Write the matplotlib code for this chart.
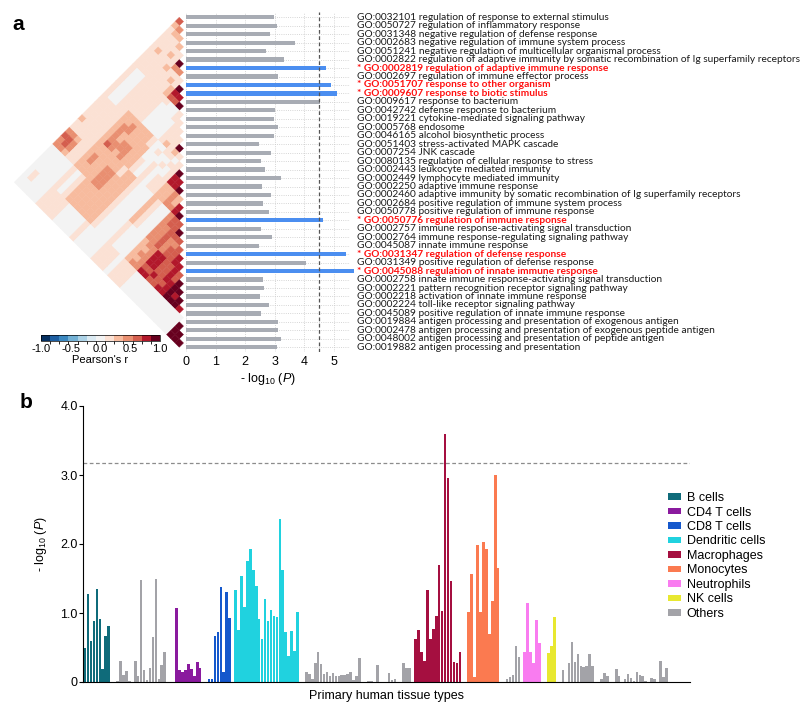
import numpy as np
import matplotlib
matplotlib.use('Agg')
from matplotlib import pyplot as plt
from matplotlib import font_manager
from matplotlib.collections import PolyCollection
from matplotlib.colors import ListedColormap, BoundaryNorm
from matplotlib.patches import Patch
import matplotlib.colorbar as mcolorbar

# === 0. DATA ===

# panel a: GO terms (top to bottom), -log10(P), significant terms in red
go_terms = [
    "GO:0032101 regulation of response to external stimulus",
    "GO:0050727 regulation of inflammatory response",
    "GO:0031348 negative regulation of defense response",
    "GO:0002683 negative regulation of immune system process",
    "GO:0051241 negative regulation of multicellular organismal process",
    "GO:0002822 regulation of adaptive immunity by somatic recombination of Ig superfamily receptors",
    "GO:0002819 regulation of adaptive immune response",
    "GO:0002697 regulation of immune effector process",
    "GO:0051707 response to other organism",
    "GO:0009607 response to biotic stimulus",
    "GO:0009617 response to bacterium",
    "GO:0042742 defense response to bacterium",
    "GO:0019221 cytokine-mediated signaling pathway",
    "GO:0005768 endosome",
    "GO:0046165 alcohol biosynthetic process",
    "GO:0051403 stress-activated MAPK cascade",
    "GO:0007254 JNK cascade",
    "GO:0080135 regulation of cellular response to stress",
    "GO:0002443 leukocyte mediated immunity",
    "GO:0002449 lymphocyte mediated immunity",
    "GO:0002250 adaptive immune response",
    "GO:0002460 adaptive immunity by somatic recombination of Ig superfamily receptors",
    "GO:0002684 positive regulation of immune system process",
    "GO:0050778 positive regulation of immune response",
    "GO:0050776 regulation of immune response",
    "GO:0002757 immune response-activating signal transduction",
    "GO:0002764 immune response-regulating signaling pathway",
    "GO:0045087 innate immune response",
    "GO:0031347 regulation of defense response",
    "GO:0031349 positive regulation of defense response",
    "GO:0045088 regulation of innate immune response",
    "GO:0002758 innate immune response-activating signal transduction",
    "GO:0002221 pattern recognition receptor signaling pathway",
    "GO:0002218 activation of innate immune response",
    "GO:0002224 toll-like receptor signaling pathway",
    "GO:0045089 positive regulation of innate immune response",
    "GO:0019884 antigen processing and presentation of exogenous antigen",
    "GO:0002478 antigen processing and presentation of exogenous peptide antigen",
    "GO:0048002 antigen processing and presentation of peptide antigen",
    "GO:0019882 antigen processing and presentation",
]
go_significant = ["GO:0002819", "GO:0051707", "GO:0009607", "GO:0050776",
                  "GO:0031347", "GO:0045088"]
go_neglog_p = [2.98, 3.08, 2.83, 3.68, 2.71, 3.32, 4.75, 3.11, 4.92, 5.10,
               4.52, 3.00, 2.98, 3.12, 2.97, 2.47, 2.86, 2.55, 2.69, 3.22,
               2.58, 2.89, 2.59, 2.82, 4.62, 2.53, 2.90, 2.46, 5.40, 4.06,
               5.70, 2.60, 2.63, 2.49, 2.81, 2.54, 3.10, 3.11, 3.20, 3.08]
go_threshold = 4.5

# lower triangle of Pearson's r between terms, row i has i cells (j = 0..i-1)
# digit d = r in colour bin d (0 ~ 0.0, 6 ~ 1.0)
hm_rows = [
    "4",
    "23",
    "122",
    "1112",
    "11111",
    "111216",
    "1211133",
    "11112111",
    "111111216",
    "1111111255",
    "11111112446",
    "100111111001",
    "1001111100011",
    "10011111000011",
    "100111110000111",
    "1001111100001116",
    "10011111000012121",
    "10011" "222" "2221" "001101",
    "11111" "223" "2221" "010011" "6",
    "11111" "233" "2222" "000101" "55",
    "11111" "232" "2222" "001001" "556",
    "11111" "232" "3322" "101011" "2232",
    "11111" "233" "3322" "101011" "22325",
    "21111" "243" "2322" "101011" "223356",
    "11111" "222" "2221" "221000" "2100344",
    "11111" "222" "2221" "221000" "2100344" "6",
    "33211" "232" "2332" "221000" "2100334" "44",
    "44311" "232" "2332" "221000" "2100334" "334",
    "34311" "222" "2332" "221000" "2100334" "3445",
    "33211" "222" "2332" "221000" "2100334" "34455",
    "00000" "101" "2222" "221000" "1000233" "554454",
    "00000" "101" "2222" "221000" "1000223" "5544546",
    "00000" "101" "2222" "221000" "1000233" "55445566",
    "00000" "101" "2222" "221000" "1000223" "445445656",
    "00000" "101" "2222" "221000" "1000233" "5544556665",
    "01000" "111" "1000" "010000" "1110111" "00000000000",
    "01000" "111" "1000" "010000" "1110111" "00000000000" "6",
    "00000" "111" "1000" "010000" "1110111" "00000000000" "66",
    "00000" "111" "1000" "010000" "1110111" "00000000000" "666",
]

# panel b: -log10(P) per tissue sample, in plotting order by cell type block
b_cells = [0.49, 1.27, 0.60, 0.89, 1.35, 0.92, 0.19, 0.66, 0.81]
others_1 = [0, 0, 0.01, 0.30, 0.10, 0.16, 0.01, 0, 0.30, 0.08, 1.48, 0.18,
            0.03, 0.20, 0.65, 1.49, 0.04, 0.24, 0.43, 0, 0, 0]
cd4_t = [1.07, 0.17, 0.14, 0.17, 0.26, 0.19, 0.08, 0.29, 0.21]
others_2 = [0, 0]
cd8_t = [0.05, 0.05, 0.66, 0.72, 1.38, 0.15, 1.30, 0.93]
others_3 = [0]
dendritic = [1.33, 0.75, 1.54, 1.09, 1.76, 1.93, 1.62, 1.39, 0.91, 0.63, 1.21,
             0.88, 1.05, 0.95, 0.94, 2.36, 1.62, 0.73, 0.37, 0.74, 0.45, 1.02]
others_4 = [0, 0, 0.14, 0.12, 0.05, 0.27, 0.43, 0.26, 0.11, 0.14, 0.09, 0.13,
            0.09, 0.08, 0.10, 0.10, 0.11, 0.15, 0.03, 0.09, 0.35, 0, 0, 0.01,
            0.02, 0, 0.24, 0, 0, 0, 0.13, 0.03, 0.05, 0, 0, 0.27, 0.21, 0.21, 0]
macrophages = [0.62, 0.75, 0.43, 0.30, 1.34, 0.62, 0.77, 0.95, 1.69, 1.03,
               3.60, 2.95, 1.47, 0.29, 0.28, 0.44]
others_5 = [0, 0]
monocytes = [1.01, 1.57, 0.07, 1.99, 1.01, 2.03, 1.93, 0.69, 1.18, 3.00, 1.65]
others_6 = [0, 0, 0.04, 0.07, 0.10, 0.52, 0.36, 0]
neutrophils = [0.44, 1.14, 0.44, 0.28, 0.90, 0.57]
others_7 = [0, 0]
nk_cells = [0.42, 0.52, 0.94]
others_8 = [0, 0, 0.17, 0, 0.28, 0.58, 0.29, 0.41, 0.23, 0.22, 0.23, 0.40,
            0.23, 0, 0, 0.04, 0.13, 0.08, 0, 0, 0.19, 0.09, 0, 0.05, 0.11,
            0.06, 0.02, 0.15, 0.10, 0.08, 0.02, 0, 0.06, 0.05, 0, 0.31, 0.07,
            0.21]
b_threshold = 3.17

cell_types = ["B cells", "CD4 T cells", "CD8 T cells", "Dendritic cells",
              "Macrophages", "Monocytes", "Neutrophils", "NK cells", "Others"]
cell_colors = ["#0f6b7a", "#8a1a9e", "#1558cc", "#20d2df", "#a50f40",
               "#fb7a50", "#f97cf0", "#e8e830", "#a3a3a8"]
b_blocks = [("B cells", b_cells), ("Others", others_1), ("CD4 T cells", cd4_t),
            ("Others", others_2), ("CD8 T cells", cd8_t), ("Others", others_3),
            ("Dendritic cells", dendritic), ("Others", others_4),
            ("Macrophages", macrophages), ("Others", others_5),
            ("Monocytes", monocytes), ("Others", others_6),
            ("Neutrophils", neutrophils), ("Others", others_7),
            ("NK cells", nk_cells), ("Others", others_8)]

# colour bins for Pearson's r, -1 .. 1
r_colors = ["#053061", "#1d5fa2", "#3b88c0", "#73b1d5", "#acd2e6", "#dbeaf2",
            "#f3f3f3", "#fbe1d4", "#f7bb9e", "#e98f71", "#d45e4e", "#b2182b",
            "#67001f"]

# === 1. FONTS ===

plt.rcParams['font.family'] = ['Liberation Sans', 'DejaVu Sans']
plt.rcParams['axes.unicode_minus'] = False
plt.rcParams['mathtext.fontset'] = 'custom'
plt.rcParams['mathtext.rm'] = 'Liberation Sans'
plt.rcParams['mathtext.it'] = 'Liberation Sans:italic'

available = {f.name for f in font_manager.fontManager.ttflist}
go_font = 'Liberation Sans Narrow' if 'Liberation Sans Narrow' in available else 'Lato'

W, H = 800, 714
fig = plt.figure(figsize=(W / 100, H / 100), dpi=100)

def px_axes(left, top, right, bottom):
    return fig.add_axes([left / W, 1 - bottom / H, (right - left) / W, (bottom - top) / H])

# === 2. PANEL A: HEATMAP TRIANGLE ===

row_px = 8.46
y_top = 17.3 - 0.6 * row_px
y_bot = 17.3 + 39.6 * row_px

ax_hm = px_axes(183.5 - 20.2 * row_px, y_top, 183.5 + 0.3 * row_px, y_bot)
polys, cols = [], []
for idx, row in enumerate(hm_rows):
    i = idx + 1
    assert len(row) == i
    for j, ch in enumerate(row):
        cx, cy = -(i - j) / 2, (i + j) / 2
        polys.append([(cx + 0.5, cy), (cx, cy + 0.5), (cx - 0.5, cy), (cx, cy - 0.5)])
        cols.append(r_colors[6 + int(ch)])
ax_hm.add_collection(PolyCollection(polys, facecolors=cols, edgecolors=cols, linewidths=0.3))
ax_hm.set_xlim(-20.2, 0.3)
ax_hm.set_ylim(39.6, -0.6)
ax_hm.axis('off')

# colorbar
ax_cb = px_axes(41, 335, 160, 341)
cmap = ListedColormap(r_colors)
norm = BoundaryNorm(np.linspace(-1, 1, len(r_colors) + 1), cmap.N)
cb = mcolorbar.ColorbarBase(ax_cb, cmap=cmap, norm=norm, orientation='horizontal',
                            ticks=[-1.0, -0.5, 0.0, 0.5, 1.0])
cb.ax.set_xticklabels(["-1.0", "-0.5", "0.0", "0.5", "1.0"])
cb.ax.tick_params(labelsize=8, length=0, pad=2)
cb.outline.set_linewidth(0.5)
cb.set_label("Pearson's r", fontsize=8, labelpad=1)

# === 3. PANEL A: BARS + LABELS ===

ax_bar = px_axes(186, y_top, 350, y_bot)
rows = np.arange(len(go_terms))
bar_colors = ['#4b8ef0' if t.split()[0] in go_significant else '#a8acb4' for t in go_terms]
ax_bar.barh(rows, go_neglog_p, height=0.5, color=bar_colors, zorder=3, clip_on=False)
ax_bar.axvline(go_threshold, color='#555555', linestyle=(0, (3, 2)), linewidth=0.9, zorder=4)
ax_bar.set_xlim(0, 5.55)
ax_bar.set_ylim(39.6, -0.6)
ax_bar.set_xticks([0, 1, 2, 3, 4, 5])
ax_bar.set_xticklabels(["0", "1", "2", "3", "4", "5"])
ax_bar.set_yticks(rows)
ax_bar.set_yticklabels([])
ax_bar.tick_params(axis='both', length=0, labelsize=9, pad=3)
ax_bar.grid(True, linestyle=':', color='#c8c8c8', linewidth=0.6, zorder=0)
for s in ax_bar.spines.values():
    s.set_visible(False)
ax_bar.set_xlabel("- log$_{10}$ ($P$)", fontsize=9, labelpad=2)

for i, term in enumerate(go_terms):
    if term.split()[0] in go_significant:
        ax_bar.text(5.8, i, "* " + term, va='center', ha='left', fontsize=7.3,
                    family=go_font, color='#ff1010', fontweight='bold', clip_on=False)
    else:
        ax_bar.text(5.8, i, term, va='center', ha='left', fontsize=7.3,
                    family=go_font, color='#1a1a1a', clip_on=False)

# === 4. PANEL B ===

ax_b = px_axes(83.3, 406, 690, 682)
color_of = dict(zip(cell_types, cell_colors))
k = 0
for name, vals in b_blocks:
    xs = np.arange(k, k + len(vals))
    ax_b.bar(xs, vals, width=0.88, color=color_of[name], linewidth=0)
    k += len(vals)
ax_b.axhline(b_threshold, color='#8c8c8c', linestyle=(0, (3, 2)), linewidth=0.9)
ax_b.set_xlim(-0.6, 205)
ax_b.set_ylim(0, 4.0)
ax_b.set_yticks([0, 1, 2, 3, 4])
ax_b.set_yticklabels(["0", "1.0", "2.0", "3.0", "4.0"])
ax_b.set_xticks([])
ax_b.tick_params(axis='y', labelsize=9, length=3, width=0.8, pad=1)
ax_b.spines['top'].set_visible(False)
ax_b.spines['right'].set_visible(False)
ax_b.spines['left'].set_linewidth(0.8)
ax_b.spines['bottom'].set_linewidth(0.8)
ax_b.set_ylabel("- log$_{10}$ ($P$)", fontsize=9, labelpad=8)
ax_b.set_xlabel("Primary human tissue types", fontsize=9, labelpad=6)

handles = [Patch(facecolor=c, edgecolor='none', label=n) for n, c in zip(cell_types, cell_colors)]
fig.legend(handles=handles, loc='upper left', bbox_to_anchor=(668 / W, 1 - 492 / H),
           frameon=False, fontsize=9, handlelength=1.0, handleheight=0.45,
           labelspacing=0.2, handletextpad=0.5, borderaxespad=0, borderpad=0)

# panel letters
fig.text(12 / W, 1 - 24 / H, "a", fontsize=15, fontweight='bold', va='center', ha='left')
fig.text(20 / W, 1 - 403 / H, "b", fontsize=15, fontweight='bold', va='center', ha='left')

fig.savefig("out.png", dpi=100)
